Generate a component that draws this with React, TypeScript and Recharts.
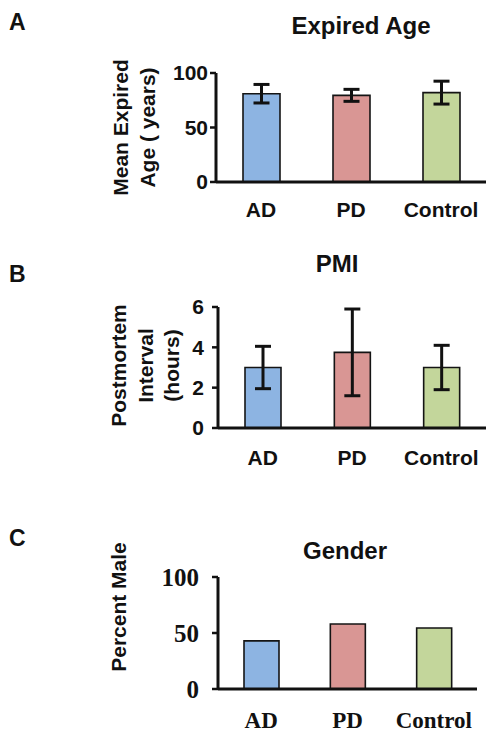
import React from "react"
import { BarChart, Bar, XAxis, YAxis, ErrorBar, Cell } from "recharts"

const groups = ["AD", "PD", "Control"]
const barColors = ["#8db4e2", "#d99694", "#c3d69b"]

const ageMean = [81, 79.5, 82]
const ageErr = [8.5, 5.5, 10.5]
const ageTicks = [0, 50, 100]

const pmiMean = [3.0, 3.75, 3.0]
const pmiErr = [1.05, 2.15, 1.1]
const pmiTicks = [0, 2, 4, 6]

const malePct = [43, 58, 54.5]
const maleTicks = [0, 50, 100]

const SANS = "'Liberation Sans', Arial, sans-serif"
const SERIF = "'Liberation Serif', 'Times New Roman', serif"
const INK = "#111"

const toRows = (vals: number[], errs?: number[]) =>
  groups.map((g, i) => ({ name: g, value: vals[i], err: errs ? errs[i] : 0 }))

// rotated y-axis title, one <text> per line
const stackedLabel =
  (lines: string[], xs: number[], shift: number, size: number) => (props: any) => {
    const vb = props.viewBox || { x: 0, y: 0, width: 0, height: 0 }
    const cy = vb.y + vb.height / 2 + shift
    return (
      <g>
        {lines.map((t, i) => {
          const x = vb.x + xs[i]
          return (
            <text
              key={t}
              x={x}
              y={cy}
              transform={`rotate(-90 ${x} ${cy})`}
              textAnchor="middle"
              dominantBaseline="central"
              fontFamily={SANS}
              fontWeight={700}
              fontSize={size}
              fill={INK}
              style={{ whiteSpace: "pre" }}
            >
              {t}
            </text>
          )
        })}
      </g>
    )
  }

type PanelProps = {
  top: number
  height: number
  letter: string
  letterTop: number
  title: string
  titleX: number
  titleTop: number
  rows: { name: string; value: number; err: number }[]
  ticks: number[]
  plotTop: number
  plotBottom: number
  axisX: number
  right: number
  barSize: number
  tickFont: string
  tickSize: number
  catSize: number
  catGap: number
  yTickGap: number
  yLabel: (props: any) => React.ReactElement
  withErr: boolean
}

const Panel = (p: PanelProps) => {
  const W = 486
  return (
    <div style={{ position: "absolute", left: 0, top: p.top, width: W, height: p.height }}>
      <div
        style={{
          position: "absolute",
          left: 9,
          top: p.letterTop,
          fontFamily: SANS,
          fontWeight: 700,
          fontSize: 23,
          lineHeight: "23px",
          color: INK,
        }}
      >
        {p.letter}
      </div>
      <div
        style={{
          position: "absolute",
          left: p.titleX - 120,
          width: 240,
          top: p.titleTop,
          textAlign: "center",
          fontFamily: SANS,
          fontWeight: 700,
          fontSize: 24,
          lineHeight: "24px",
          color: INK,
        }}
      >
        {p.title}
      </div>
      <div style={{ position: "absolute", left: 0, top: 0 }}>
        <BarChart
          width={W}
          height={p.height}
          data={p.rows}
          margin={{ top: p.plotTop, right: p.right, bottom: 0, left: 0 }}
          barCategoryGap={0}
        >
          <XAxis
            dataKey="name"
            height={p.height - p.plotBottom}
            tickLine={false}
            tickSize={0}
            tickMargin={p.catGap}
            axisLine={{ stroke: INK, strokeWidth: 3 }}
            tick={{ fill: INK, fontSize: p.catSize, fontWeight: 700, fontFamily: p.tickFont }}
            interval={0}
          />
          <YAxis
            type="number"
            width={p.axisX}
            domain={[p.ticks[0], p.ticks[p.ticks.length - 1]]}
            ticks={p.ticks}
            interval={0}
            tickSize={6}
            tickMargin={p.yTickGap}
            axisLine={{ stroke: INK, strokeWidth: 3 }}
            tickLine={{ stroke: INK, strokeWidth: 2.5 }}
            tick={{ fill: INK, fontSize: p.tickSize, fontWeight: 700, fontFamily: p.tickFont }}
            label={{ content: p.yLabel }}
          />
          <Bar
            dataKey="value"
            barSize={p.barSize}
            stroke="#141414"
            strokeWidth={1.6}
            isAnimationActive={false}
          >
            {p.rows.map((r, i) => (
              <Cell key={r.name} fill={barColors[i]} />
            ))}
            {p.withErr && (
              <ErrorBar
                dataKey="err"
                direction="y"
                width={8}
                stroke={INK}
                strokeWidth={3}
                isAnimationActive={false}
              />
            )}
          </Bar>
        </BarChart>
      </div>
    </div>
  )
}

export default function App() {
  return (
    <div
      style={{
        position: "absolute",
        left: 0,
        top: 0,
        width: 486,
        height: 735,
        background: "#fff",
        overflow: "hidden",
      }}
    >
      <Panel
        top={0}
        height={230}
        letter="A"
        letterTop={11}
        title="Expired Age"
        titleX={361}
        titleTop={14}
        rows={toRows(ageMean, ageErr)}
        ticks={ageTicks}
        plotTop={73}
        plotBottom={182}
        axisX={216}
        right={0}
        barSize={37}
        tickFont={SANS}
        tickSize={21}
        catSize={21}
        catGap={20}
        yTickGap={2}
        yLabel={stackedLabel(["Mean Expired", "Age ( years)"], [120, 147], 0, 21)}
        withErr
      />
      <Panel
        top={230}
        height={260}
        letter="B"
        letterTop={33}
        title="PMI"
        titleX={337}
        titleTop={22}
        rows={toRows(pmiMean, pmiErr)}
        ticks={pmiTicks}
        plotTop={77}
        plotBottom={198}
        axisX={218}
        right={0}
        barSize={36}
        tickFont={SANS}
        tickSize={21}
        catSize={21}
        catGap={22}
        yTickGap={8}
        yLabel={stackedLabel(["Postmortem", "Interval", "(hours)"], [118, 145, 171], -2, 21)}
        withErr
      />
      <Panel
        top={490}
        height={245}
        letter="C"
        letterTop={37}
        title="Gender"
        titleX={345}
        titleTop={49}
        rows={toRows(malePct)}
        ticks={maleTicks}
        plotTop={87}
        plotBottom={199}
        axisX={218}
        right={9}
        barSize={35}
        tickFont={SERIF}
        tickSize={25}
        catSize={23}
        catGap={23}
        yTickGap={13}
        yLabel={stackedLabel(["Percent Male"], [118], -26, 21)}
        withErr={false}
      />
    </div>
  )
}
